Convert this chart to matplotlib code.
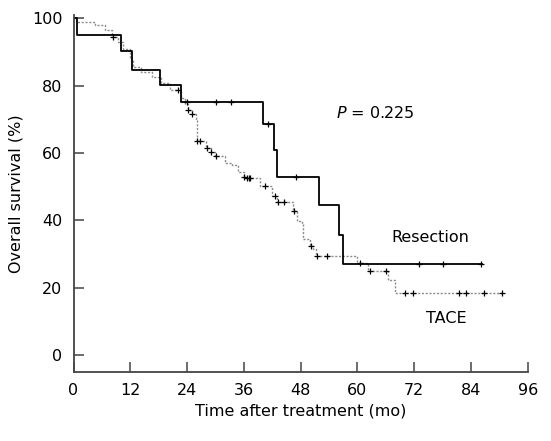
import numpy as np
import matplotlib
matplotlib.use('Agg')
import matplotlib.pyplot as plt

# Kaplan-Meier steps: (time in months, survival % after the drop)
res_times = [0, 0.8, 10.1, 12.3, 18.2, 22.8, 40.1, 42.3, 43.1, 51.8, 56.2, 56.9]
res_surv = [100, 95.2, 90.2, 84.7, 80.2, 75.2, 68.6, 61.0, 52.9, 44.7, 35.6, 27.2]
res_end = 86.4
res_censor = [24.0, 30.2, 33.2, 41.2, 47.1, 73.1, 78.0, 86.1]

tace_times = [0, 0.5, 4.5, 6.6, 8.2, 9.5, 10.4, 11.9, 12.5, 14.3, 16.5, 18.5, 20.5,
              22.7, 23.5, 24.2, 25.0, 25.8, 26.1, 28.0, 29.0, 30.0, 32.0, 33.5,
              34.7, 36.0, 36.5, 39.5, 42.0, 43.0, 46.3, 47.3, 48.3, 48.6, 50.0,
              50.7, 51.3, 60.0, 62.3, 66.5, 67.9]
tace_surv = [100, 99.0, 97.9, 96.4, 94.6, 92.9, 91.0, 88.0, 85.5, 84.0, 82.5, 80.7, 78.7,
             76.3, 74.7, 72.8, 71.5, 69.8, 63.6, 61.4, 60.4, 59.0, 57.0, 56.5,
             54.5, 53.0, 52.5, 50.1, 47.3, 45.6, 42.7, 39.7, 38.8, 34.5, 32.5,
             31.4, 29.4, 27.4, 24.9, 22.2, 18.5]
tace_end = 90.6
tace_censor = [8.3, 22.0, 24.3, 25.1, 26.2, 26.7, 28.3, 29.1, 30.2, 36.0, 36.7, 37.0,
               37.4, 40.5, 42.6, 43.3, 44.5, 46.7, 50.1, 51.4, 53.5, 60.6, 62.6,
               66.1, 70.0, 71.8, 81.4, 82.9, 86.8, 90.6]


def surv_at(times, surv, t):
    idx = np.searchsorted(times, t, side='right') - 1
    return np.asarray(surv)[idx]


plt.rcParams['font.family'] = 'DejaVu Sans'
fig = plt.figure(figsize=(5.51, 4.41), dpi=100)
ax = fig.add_axes([0.1334, 0.1565, 0.8243, 0.8095])

# TACE: light dotted grey
ax.step(tace_times + [tace_end], tace_surv + [tace_surv[-1]], where='post',
        color='#8c8c8c', lw=1.0, ls=(0, (1.5, 1.2)))
ax.plot(tace_censor, surv_at(tace_times, tace_surv, tace_censor), '+',
        color='black', ms=5, mew=0.9)

# Resection: solid black
ax.step(res_times + [res_end], res_surv + [res_surv[-1]], where='post',
        color='black', lw=1.3)
ax.plot(res_censor, surv_at(res_times, res_surv, res_censor), '+',
        color='black', ms=5, mew=0.9)

ax.text(55.5, 72, r'$\it{P}$ = 0.225', fontsize=11.5, va='center', ha='left')
ax.text(67.2, 34.9, 'Resection', fontsize=11.5, va='center', ha='left')
ax.text(74.5, 10.9, 'TACE', fontsize=11.5, va='center', ha='left')

ax.set_xlim(0, 96)
ax.set_ylim(-5, 101)
ax.set_xticks(np.arange(0, 97, 12))
ax.set_yticks(np.arange(0, 101, 20))
ax.spines['top'].set_visible(False)
ax.spines['right'].set_visible(False)
for s in ['left', 'bottom']:
    ax.spines[s].set_color('#444444')
    ax.spines[s].set_linewidth(1.3)
ax.tick_params(direction='in', length=7, width=1.1, color='#444444',
               labelsize=11.5, pad=8)
ax.set_xlabel('Time after treatment (mo)', fontsize=11.5, labelpad=4)
ax.set_ylabel('Overall survival (%)', fontsize=11.5, labelpad=6)

fig.savefig('out.png', dpi=100)
